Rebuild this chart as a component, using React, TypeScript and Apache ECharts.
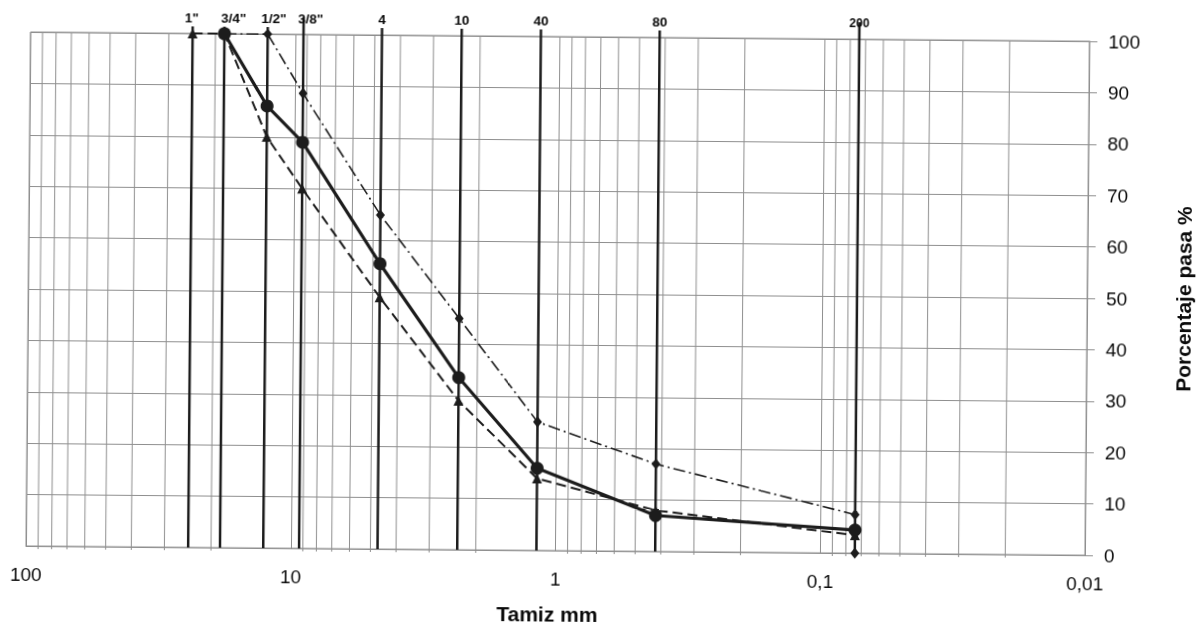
import React, { useEffect, useRef } from 'react';
import * as echarts from 'echarts';

// Sieve designations and their opening (mm) as drawn on the chart
const sieveLabels = ['1"', '3/4"', '1/2"', '3/8"', '4', '10', '40', '80', '200'];
const sieveSizes = [24.4, 18.5, 12.7, 9.3, 4.7, 2.35, 1.18, 0.42, 0.074];

// Solid curve (circles)
const solidSizes = [18.5, 12.7, 9.3, 4.7, 2.35, 1.18, 0.42, 0.074];
const solidPass = [100, 86, 79, 55.5, 33.5, 16, 7, 4.5];

// Dashed curve (triangles)
const dashedSizes = [24.4, 18.5, 12.7, 9.3, 4.7, 2.35, 1.18, 0.42, 0.074];
const dashedPass = [100, 100, 80, 70, 49, 29, 14, 8, 3.5];

// Dash-dot curve (diamonds)
const dashDotSizes = [18.5, 12.7, 9.3, 4.7, 2.35, 1.18, 0.42, 0.074];
const dashDotPass = [100, 100, 88.5, 65, 45, 25, 17, 7.5];

// Lone diamond at the bottom of the #200 sieve
const panSizes = [0.074];
const panPass = [0];

// x tick labels by decade exponent
const xTickLabels: Record<string, string> = {
  '-2': '0,01',
  '-1': '0,1',
  '0': '1',
  '1': '10',
  '2': '100',
};

// log-paper minor grid (2..9 of each decade)
const decadeExponents = [-2, -1, 0, 1];
const minorMultipliers = [2, 3, 4, 5, 6, 7, 8, 9];

const FONT = 'Liberation Sans, Arial, sans-serif';
const INK = '#1c1c1c';
const GRID = '#8f8f8f';

export default function App() {
  const ref = useRef<HTMLDivElement>(null);

  useEffect(() => {
    if (!ref.current) return;
    const chart = echarts.init(ref.current, undefined, { renderer: 'svg' });

    const minorGridValues: number[] = [];
    decadeExponents.forEach((e) => {
      minorMultipliers.forEach((m) => {
        minorGridValues.push(Number((m * Math.pow(10, e)).toPrecision(3)));
      });
    });

    const labelShift: Record<string, number> = { '1"': -1, '3/4"': 9, '1/2"': 6, '3/8"': 7 };
    const tallLines: Record<string, boolean> = { '3/8"': true, '200': true };

    const pairs = (xs: number[], ys: number[]) => xs.map((x, i) => [x, ys[i]]);

    const option: any = {
      animation: false,
      backgroundColor: '#ffffff',
      grid: {
        left: 28,
        right: 117,
        top: 37,
        bottom: 79,
        show: true,
        borderColor: GRID,
        borderWidth: 1,
      },
      xAxis: {
        type: 'log',
        logBase: 10,
        min: 0.01,
        max: 100,
        inverse: true,
        position: 'bottom',
        name: 'Tamiz mm',
        nameLocation: 'middle',
        nameGap: 53,
        nameTextStyle: {
          fontFamily: FONT,
          fontSize: 21,
          fontWeight: 'bold',
          color: '#0a0a0a',
          padding: [0, 16, 0, 0],
        },
        axisLine: { show: true, lineStyle: { color: GRID, width: 1 } },
        axisTick: { show: false },
        axisLabel: {
          show: true,
          margin: 19,
          fontFamily: FONT,
          fontSize: 19,
          color: '#0a0a0a',
          showMinLabel: true,
          showMaxLabel: true,
          formatter: (v: number) => {
            const k = String(Math.round(Math.log10(v)));
            return xTickLabels[k] ?? '';
          },
        },
        splitLine: { show: true, lineStyle: { color: GRID, width: 1 } },
      },
      yAxis: {
        type: 'value',
        position: 'right',
        min: 0,
        max: 100,
        interval: 10,
        name: 'Porcentaje pasa %',
        nameLocation: 'middle',
        nameRotate: 90,
        nameGap: 86,
        nameTextStyle: {
          fontFamily: FONT,
          fontSize: 21,
          fontWeight: 'bold',
          color: '#0a0a0a',
        },
        axisLine: { show: true, lineStyle: { color: GRID, width: 1 } },
        axisTick: { show: true, length: 8, lineStyle: { color: GRID } },
        axisLabel: {
          margin: 19,
          fontFamily: FONT,
          fontSize: 19,
          color: '#0a0a0a',
        },
        splitLine: { show: true, lineStyle: { color: GRID, width: 1 } },
      },
      series: [
        {
          name: 'minor-grid',
          type: 'custom',
          silent: true,
          z: 1,
          data: minorGridValues.map((v) => [v, 0]),
          encode: { x: 0, y: 1 },
          renderItem: (_p: any, api: any) => {
            const b = api.coord([api.value(0), 0]);
            const t = api.coord([api.value(0), 100]);
            return {
              type: 'line',
              shape: { x1: b[0], y1: b[1] + 3, x2: t[0], y2: t[1] },
              style: { stroke: GRID, lineWidth: 1 },
            };
          },
        },
        {
          name: 'tamices',
          type: 'custom',
          silent: true,
          z: 3,
          data: sieveSizes.map((s, i) => [s, 0, i]),
          encode: { x: 0, y: 1 },
          renderItem: (_p: any, api: any) => {
            const i = api.value(2);
            const label = sieveLabels[i];
            const b = api.coord([api.value(0), 0]);
            const t = api.coord([api.value(0), 100]);
            return {
              type: 'group',
              children: [
                {
                  type: 'line',
                  shape: {
                    x1: b[0],
                    y1: b[1],
                    x2: t[0],
                    y2: t[1] - (tallLines[label] ? 17 : 7),
                  },
                  style: { stroke: INK, lineWidth: 2.5 },
                },
                {
                  type: 'text',
                  x: t[0] + (labelShift[label] || 0),
                  y: t[1] - 16,
                  style: {
                    text: label,
                    fill: '#0a0a0a',
                    fontFamily: FONT,
                    fontWeight: 'bold',
                    fontSize: label === '200' ? 12 : 13.5,
                    align: 'center',
                    verticalAlign: 'middle',
                  },
                },
              ],
            };
          },
        },
        {
          name: 'Curva 3',
          type: 'line',
          z: 4,
          data: pairs(dashDotSizes, dashDotPass),
          symbol: 'diamond',
          symbolSize: [9, 11],
          itemStyle: { color: INK },
          lineStyle: { color: INK, width: 1.6, type: [12, 4, 2, 4] },
        },
        {
          name: 'Fondo',
          type: 'line',
          z: 4,
          data: pairs(panSizes, panPass),
          symbol: 'diamond',
          symbolSize: [9, 11],
          itemStyle: { color: INK },
          lineStyle: { width: 0 },
        },
        {
          name: 'Curva 2',
          type: 'line',
          z: 5,
          data: pairs(dashedSizes, dashedPass),
          symbol: 'triangle',
          symbolSize: 10,
          itemStyle: { color: INK },
          lineStyle: { color: INK, width: 2, type: [10, 5] },
        },
        {
          name: 'Curva 1',
          type: 'line',
          z: 6,
          data: pairs(solidSizes, solidPass),
          symbol: 'circle',
          symbolSize: 13,
          itemStyle: { color: INK },
          lineStyle: { color: INK, width: 3.2 },
        },
      ],
    };

    chart.setOption(option);
    return () => {
      chart.dispose();
    };
  }, []);

  return (
    <div
      ref={ref}
      style={{
        position: 'fixed',
        left: 0,
        top: 0,
        width: 1204,
        height: 630,
        background: '#ffffff',
        transform: 'rotate(0.5deg)',
        transformOrigin: '50% 50%',
      }}
    />
  );
}
